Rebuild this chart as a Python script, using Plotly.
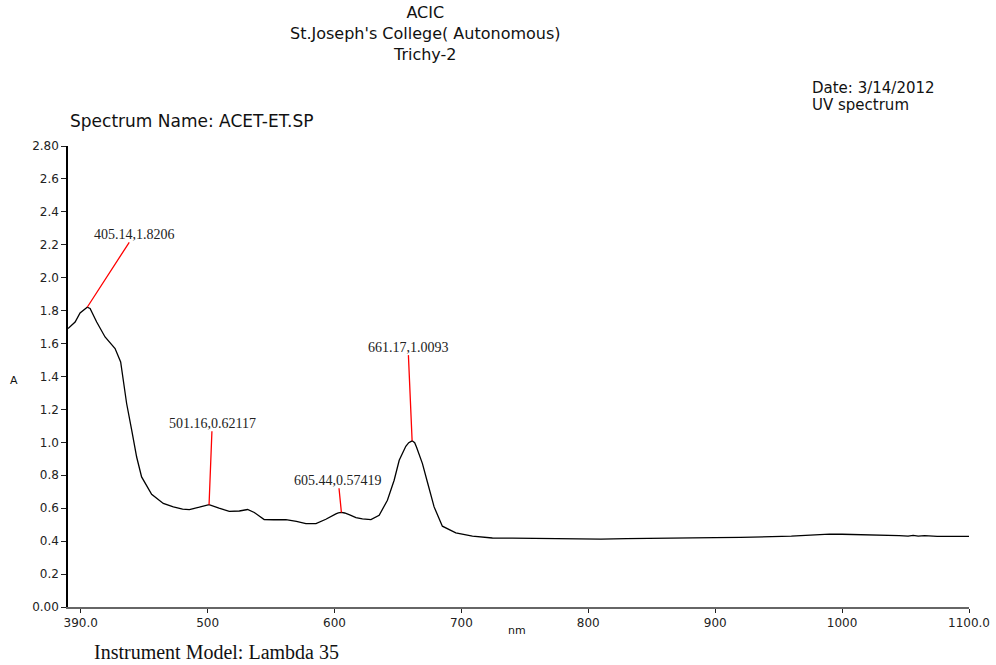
import plotly.graph_objects as go

# Spectrum data (wavelength nm, absorbance A)
wavelength = [390, 395.6, 399.5, 402.7, 405.14, 407.4, 412.6, 419.2, 423.1, 427.1, 431.5, 433.1,
              436.2, 440.2, 444.1, 448.0, 455.9, 465.1, 473, 480.3, 485.6, 493.5, 501.16, 509,
              517.1, 525, 531.5, 536.8, 544.6, 552, 561.7, 570, 577.5, 585.4, 593.2, 601.1, 603,
              605.44, 608, 612, 616.9, 622, 628.7, 635.2, 641.7, 647, 651, 656.2, 658.5, 661.17,
              663.2, 664.6, 669.3, 673.2, 678.5, 685, 695.6, 708.7, 724.4, 740, 770, 790, 810, 830,
              850, 880, 900, 920, 945, 960, 975, 990, 1000, 1015, 1030, 1045, 1052, 1056, 1060,
              1065, 1075, 1100]
absorbance = [1.691, 1.731, 1.786, 1.807, 1.8206, 1.813, 1.731, 1.640, 1.604, 1.570, 1.488, 1.397,
              1.236, 1.074, 0.911, 0.790, 0.685, 0.629, 0.608, 0.594, 0.592, 0.606, 0.62117, 0.600,
              0.581, 0.583, 0.592, 0.574, 0.531, 0.530, 0.531, 0.520, 0.507, 0.507, 0.533, 0.566, 0.572,
              0.57419, 0.571, 0.560, 0.543, 0.535, 0.531, 0.557, 0.648, 0.770, 0.891, 0.976, 0.998, 1.0093,
              0.998, 0.972, 0.871, 0.759, 0.608, 0.491, 0.450, 0.430, 0.419, 0.418, 0.416, 0.413, 0.412,
              0.415, 0.418, 0.419, 0.421, 0.423, 0.426, 0.430, 0.436, 0.443, 0.442, 0.440, 0.436, 0.434,
              0.430, 0.435, 0.430, 0.433, 0.429, 0.429]

# Peak picks
peak_nm = [405.14, 501.16, 605.44, 661.17]
peak_A = [1.8206, 0.62117, 0.57419, 1.0093]
peak_text = ["405.14,1.8206", "501.16,0.62117", "605.44,0.57419", "661.17,1.0093"]

# Axis ticks
x_tickvals = [400, 500, 600, 700, 800, 900, 1000, 1100]
x_ticktext = ["390.0", "500", "600", "700", "800", "900", "1000", "1100.0"]
y_tickvals = [0, 0.2, 0.4, 0.6, 0.8, 1.0, 1.2, 1.4, 1.6, 1.8, 2.0, 2.2, 2.4, 2.6, 2.8]
y_ticktext = ["0.00", "0.2", "0.4", "0.6", "0.8", "1.0", "1.2", "1.4", "1.6", "1.8", "2.0",
              "2.2", "2.4", "2.6", "2.80"]

# Header text lines
header_lines = ["ACIC", "St.Joseph's College( Autonomous)", "Trichy-2"]

# label placement (data-space offsets of label centre relative to the peak)
label_offsets = [(37.2, 0.443), (2.5, 0.495), (-2.5, 0.196), (-3.2, 0.569)]

fig = go.Figure()
fig.add_trace(go.Scatter(x=wavelength, y=absorbance, mode="lines",
                         line=dict(color="black", width=1.3), hoverinfo="x+y",
                         showlegend=False))

annotations = []
for nm, a, txt, (dx, dy) in zip(peak_nm, peak_A, peak_text, label_offsets):
    annotations.append(dict(x=nm, y=a, xref="x", yref="y", ax=nm + dx, ay=a + dy,
                            axref="x", ayref="y", text=txt, showarrow=True, arrowhead=0,
                            arrowwidth=1.3, arrowcolor="#ff0000", standoff=0, borderpad=0,
                            font=dict(family="Liberation Serif", size=14, color="#222")))

sans = "DejaVu Sans"
def ptext(x, y, text, size=15, xanchor="center", family=sans, align="left"):
    return dict(x=x, y=y, xref="paper", yref="paper", text=text, showarrow=False, align=align,
                xanchor=xanchor, yanchor="middle", font=dict(family=family, size=size, color="#111"))

annotations += [
    ptext(0.397, 1.245, "<br>".join(header_lines), size=16, align="center"),
    ptext(0.824, 1.126, "Date: 3/14/2012", size=15, xanchor="left"),
    ptext(0.824, 1.090, "UV spectrum", size=15, xanchor="left"),
    ptext(0.0, 1.054, "Spectrum Name: ACET-ET.SP", size=17, xanchor="left"),
    ptext(0.0266, -0.0976, "Instrument Model: Lambda 35", size=20, xanchor="left",
          family="Liberation Serif"),
    ptext(-0.06, 0.4915, "A", size=11),
    ptext(0.498, -0.052, "nm", size=11),
]

fig.update_layout(
    width=996, height=665,
    margin=dict(l=68, r=27, t=146, b=58, autoexpand=False),
    paper_bgcolor="white", plot_bgcolor="white",
    annotations=annotations,
    xaxis=dict(range=[390, 1100], tickvals=x_tickvals, ticktext=x_ticktext, automargin=False,
               showgrid=False, zeroline=False, showline=True, linecolor="#666", linewidth=1.5,
               ticks="outside", ticklen=4, tickcolor="#222", tickwidth=1,
               tickfont=dict(family=sans, size=12, color="#222")),
    yaxis=dict(range=[0, 2.8], tickvals=y_tickvals, ticktext=y_ticktext, automargin=False,
               showgrid=False, zeroline=False, showline=True, linecolor="black", linewidth=1.5,
               ticks="outside", ticklen=5, tickcolor="#222", tickwidth=1,
               tickfont=dict(family=sans, size=12, color="#222")),
)

fig.write_html("out.html")
